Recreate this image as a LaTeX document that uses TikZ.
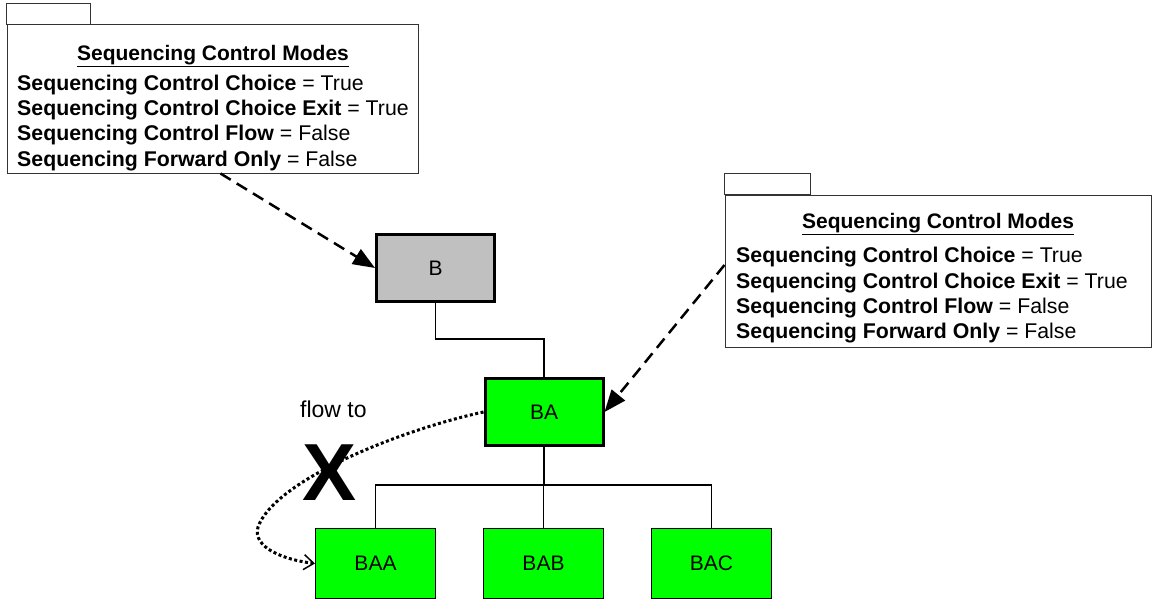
\documentclass[tikz,border=0pt]{standalone}
\usepackage{fontspec}
\setmainfont{Liberation Sans}
\usepackage{tikz}
\usetikzlibrary{positioning, arrows.meta}
\definecolor{itemgreen}{RGB}{0,255,0}
\definecolor{itemgray}{RGB}{192,192,192}
\newcommand{\modeline}[2]{\textbf{#1} = #2}

\begin{document}
\begin{tikzpicture}[x=1pt, y=-1pt,
    item/.style={rectangle, draw=black, line width=1pt, fill=itemgreen, minimum width=120pt, minimum height=70pt, font=\fontsize{21}{24}\selectfont},
    current/.style={item, line width=3pt, minimum width=118pt, minimum height=67pt},
    note/.style={rectangle, draw=black!80, line width=1pt, fill=white},
    notetext/.style={anchor=base west, inner sep=0pt, font=\fontsize{21.3}{24}\selectfont},
    notetitle/.style={anchor=base, inner sep=0pt, font=\fontsize{21}{24}\selectfont\bfseries},
    link/.style={draw=black, line width=1.2pt},
    modelink/.style={draw=black, line width=2.5pt, dash pattern=on 12pt off 7pt, -{Triangle[length=22pt, width=17pt]}},
    flowlink/.style={draw=black, line width=3pt, dash pattern=on 3pt off 2.5pt, -{Straight Barb[length=10pt, width=15pt, line width=1.5pt]}}
  ]
    \useasboundingbox (0,0) rectangle (1153,602);

    % note for B
    \node[note, minimum width=411pt, minimum height=148pt] (note1) at (212.5,99) {};
    \draw[note] (note1.north west) rectangle ++(84,-21);
    \node[notetitle] (t1) at (213,60) {\underline{Sequencing Control Modes}};
    \node[notetext] (m1a) at (17,90) {\modeline{Sequencing Control Choice}{True}};
    \node[notetext] (m1b) at (17,115) {\modeline{Sequencing Control Choice Exit}{True}};
    \node[notetext] (m1c) at (17,140) {\modeline{Sequencing Control Flow}{False}};
    \node[notetext] (m1d) at (17,166) {\modeline{Sequencing Forward Only}{False}};

    % note for BA
    \node[note, minimum width=426pt, minimum height=152pt] (note2) at (938,271) {};
    \draw[note] (note2.north west) rectangle ++(86,-21);
    \node[notetitle] (t2) at (938,228) {\underline{Sequencing Control Modes}};
    \node[notetext] (m2a) at (736,262) {\modeline{Sequencing Control Choice}{True}};
    \node[notetext] (m2b) at (736,288) {\modeline{Sequencing Control Choice Exit}{True}};
    \node[notetext] (m2c) at (736,313) {\modeline{Sequencing Control Flow}{False}};
    \node[notetext] (m2d) at (736,338) {\modeline{Sequencing Forward Only}{False}};

    % activity tree
    \node[current, fill=itemgray] (b) at (435.5,268) {B};
    \node[current] (ba) at (544,412) {BA};
    \node[item] (baa) at (375.5,563.5) {BAA};
    \node[item] (bab) at (543.5,563.5) {BAB};
    \node[item] (bac) at (711.5,563.5) {BAC};

    \draw[link] (b.south) -- ++(0,36) -| (ba.north);
    \foreach \c in {baa,bab,bac}
      \draw[link] (ba.south) -- ++(0,38) -| (\c.north);

    \draw[modelink] ([xshift=8pt]note1.south) -- (b.west);
    \draw[modelink] ([yshift=6pt]note2.west) -- (ba.east);

    % blocked flow
    \node[anchor=base west, inner sep=0pt, font=\fontsize{23}{26}\selectfont] (flow) at (300,417) {flow to};
    \draw[flowlink] (ba.west) .. controls (400,430) and (275,480) .. (258,527)
      .. controls (252,548) and (285,560) .. (baa.west);
    \node[anchor=base, inner sep=0pt, font=\fontsize{81}{81}\selectfont\bfseries] (cross) at (330,500) {X};
  \end{tikzpicture}
\end{document}
